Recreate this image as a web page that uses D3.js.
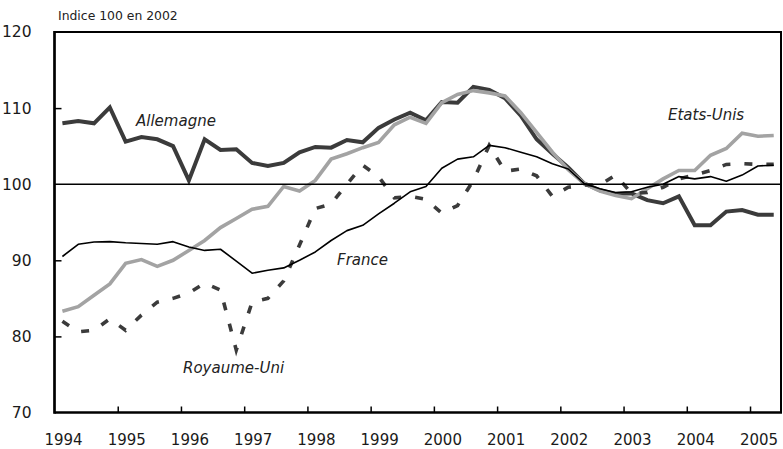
<!DOCTYPE html>
<html>
<head>
<meta charset="utf-8">
<script src="https://cdn.jsdelivr.net/npm/d3@7"></script>
<style>
  html, body { margin: 0; padding: 0; background: #fff; }
  svg { display: block; font-family: "DejaVu Sans", sans-serif; }
</style>
</head>
<body>
<svg id="chart" width="783" height="449"></svg>
<script>
// Quarterly data, 1994Q1 .. 2005Q2 (index 100 in 2002)
const startYear = 1994;
const yearTicks = [1994, 1995, 1996, 1997, 1998, 1999, 2000, 2001, 2002, 2003, 2004, 2005];
const valueTicks = [70, 80, 90, 100, 110, 120];

const allemagne = [
  108.0, 108.3, 108.0, 110.1,
  105.6, 106.2, 105.9, 105.0,
  100.5, 105.9, 104.5, 104.6,
  102.8, 102.4, 102.8, 104.2,
  104.9, 104.8, 105.8, 105.5,
  107.4, 108.5, 109.4, 108.4,
  110.8, 110.7, 112.8, 112.4,
  111.3, 109.0, 105.9, 104.0,
  102.2, 100.1, 99.2, 98.7,
  98.8, 97.9, 97.5, 98.4,
  94.6, 94.6, 96.4, 96.6,
  96.0, 96.0
];
const etatsUnis = [
  83.3, 83.9, 85.4, 86.9,
  89.6, 90.1, 89.2, 90.0,
  91.3, 92.6, 94.3, 95.5,
  96.7, 97.1, 99.7, 99.1,
  100.5, 103.3, 104.0, 104.8,
  105.5, 107.8, 108.8, 108.0,
  110.7, 111.8, 112.3, 112.0,
  111.6, 109.4, 106.8, 104.2,
  101.9, 100.1, 99.1, 98.5,
  98.1, 99.4, 100.7, 101.8,
  101.8, 103.8, 104.7, 106.7,
  106.3, 106.4
];
const france = [
  90.5, 92.1, 92.4, 92.45,
  92.3, 92.2, 92.1, 92.45,
  91.75, 91.3, 91.45, 89.9,
  88.3, 88.7, 89.0, 90.0,
  91.1, 92.6, 93.9, 94.6,
  96.1, 97.5, 99.0, 99.7,
  102.1, 103.3, 103.6, 105.1,
  104.8, 104.2, 103.6, 102.7,
  102.0, 100.1, 99.4, 98.9,
  99.0, 99.6, 100.0, 101.0,
  100.7, 101.0, 100.4, 101.2,
  102.4, 102.5
];
const royaumeUni = [
  82.0, 80.6, 80.8, 82.3,
  80.8, 82.8, 84.5, 85.0,
  85.7, 87.0, 86.1, 78.2,
  84.5, 85.0, 87.3, 92.0,
  96.8, 97.4, 100.0, 102.5,
  101.0, 98.2, 98.4, 98.0,
  96.2, 97.2, 100.5, 105.1,
  101.7, 102.0, 101.1, 98.4,
  99.6, 99.9, 99.9, 101.2,
  98.8, 98.9, 99.6, 100.7,
  101.2, 101.8, 102.6, 102.7,
  102.6, 102.6
];

const seriesNames = ["Allemagne", "Etats-Unis", "Royaume-Uni", "France"];
const seriesData = [allemagne, etatsUnis, royaumeUni, france];
const seriesStyle = [
  { color: "#3b3b3b", width: 4, dash: null },
  { color: "#a3a3a3", width: 3.6, dash: null },
  { color: "#3b3b3b", width: 3.6, dash: "8,14" },
  { color: "#000000", width: 1.6, dash: null }
];
const labels = [
  { text: "Allemagne", x: 136, y: 125.5 },
  { text: "Etats-Unis", x: 668, y: 119.5 },
  { text: "France", x: 337, y: 265 },
  { text: "Royaume-Uni", x: 183, y: 372.5 }
];

const svg = d3.select("#chart");
const pLeft = 54.5, pRight = 781, pTop = 32, pBottom = 412.5;

const x = d3.scaleLinear().domain([1994, 2005.49]).range([pLeft, pRight]);
const y = d3.scaleLinear().domain([70, 120]).range([pBottom, pTop]);

const qx = i => startYear + (i + 0.5) / 4;

// series lines
const line = d3.line().x((d, i) => x(qx(i))).y(d => y(d)).curve(d3.curveLinear);
seriesData.forEach((arr, k) => {
  const st = seriesStyle[k];
  const p = svg.append("path")
    .datum(arr)
    .attr("d", line)
    .attr("fill", "none")
    .attr("stroke", st.color)
    .attr("stroke-width", st.width)
    .attr("stroke-linejoin", k === 3 ? "round" : "miter")
    .attr("stroke-miterlimit", 10);
  if (st.dash) p.attr("stroke-dasharray", st.dash);
});

// reference line at 100
svg.append("line")
  .attr("x1", pLeft).attr("x2", pRight)
  .attr("y1", y(100)).attr("y2", y(100))
  .attr("stroke", "#000").attr("stroke-width", 1.5);

// axes
const yAxis = d3.axisLeft(y).tickValues(valueTicks).tickSize(-7).tickPadding(23).tickFormat(d3.format("d"));
const gy = svg.append("g").attr("transform", `translate(${pLeft},0)`).call(yAxis);
gy.select(".domain").remove();
gy.selectAll(".tick line").attr("stroke", "#000").attr("stroke-width", 1.5)
  .filter(d => d === 120 || d === 70 || d === 100).remove();
gy.selectAll(".tick text").attr("font-size", 15.5).attr("fill", "#1a1a1a")
  .attr("font-family", "DejaVu Sans, sans-serif");

const xAxis = d3.axisBottom(x).tickValues(yearTicks).tickSize(-6).tickPadding(21.5).tickFormat(d3.format("d"));
const gx = svg.append("g").attr("transform", `translate(0,${pBottom})`).call(xAxis);
gx.select(".domain").remove();
gx.selectAll(".tick line").attr("stroke", "#000").attr("stroke-width", 1.5)
  .filter(d => d === 1994).remove();
gx.selectAll(".tick text").attr("font-size", 15).attr("fill", "#1a1a1a")
  .attr("font-family", "DejaVu Sans, sans-serif").attr("dx", 8.5);

// frame
svg.append("line").attr("x1", pLeft).attr("x2", pLeft).attr("y1", pTop - 1).attr("y2", pBottom + 1.2)
  .attr("stroke", "#000").attr("stroke-width", 2.7);
svg.append("line").attr("x1", pLeft).attr("x2", pRight + 1).attr("y1", pBottom).attr("y2", pBottom)
  .attr("stroke", "#000").attr("stroke-width", 2.5);
svg.append("line").attr("x1", pLeft).attr("x2", pRight + 1).attr("y1", pTop).attr("y2", pTop)
  .attr("stroke", "#000").attr("stroke-width", 2);
svg.append("line").attr("x1", pRight).attr("x2", pRight).attr("y1", pTop).attr("y2", pBottom)
  .attr("stroke", "#000").attr("stroke-width", 2);

// unit note
svg.append("text").attr("x", 58).attr("y", 20)
  .attr("font-size", 12.4).attr("fill", "#222").text("Indice 100 en 2002");

// series labels
svg.selectAll("text.serie").data(labels).enter().append("text")
  .attr("class", "serie")
  .attr("x", d => d.x).attr("y", d => d.y)
  .attr("font-size", 15).attr("font-style", "italic").attr("fill", "#222")
  .text(d => d.text);
</script>
</body>
</html>
